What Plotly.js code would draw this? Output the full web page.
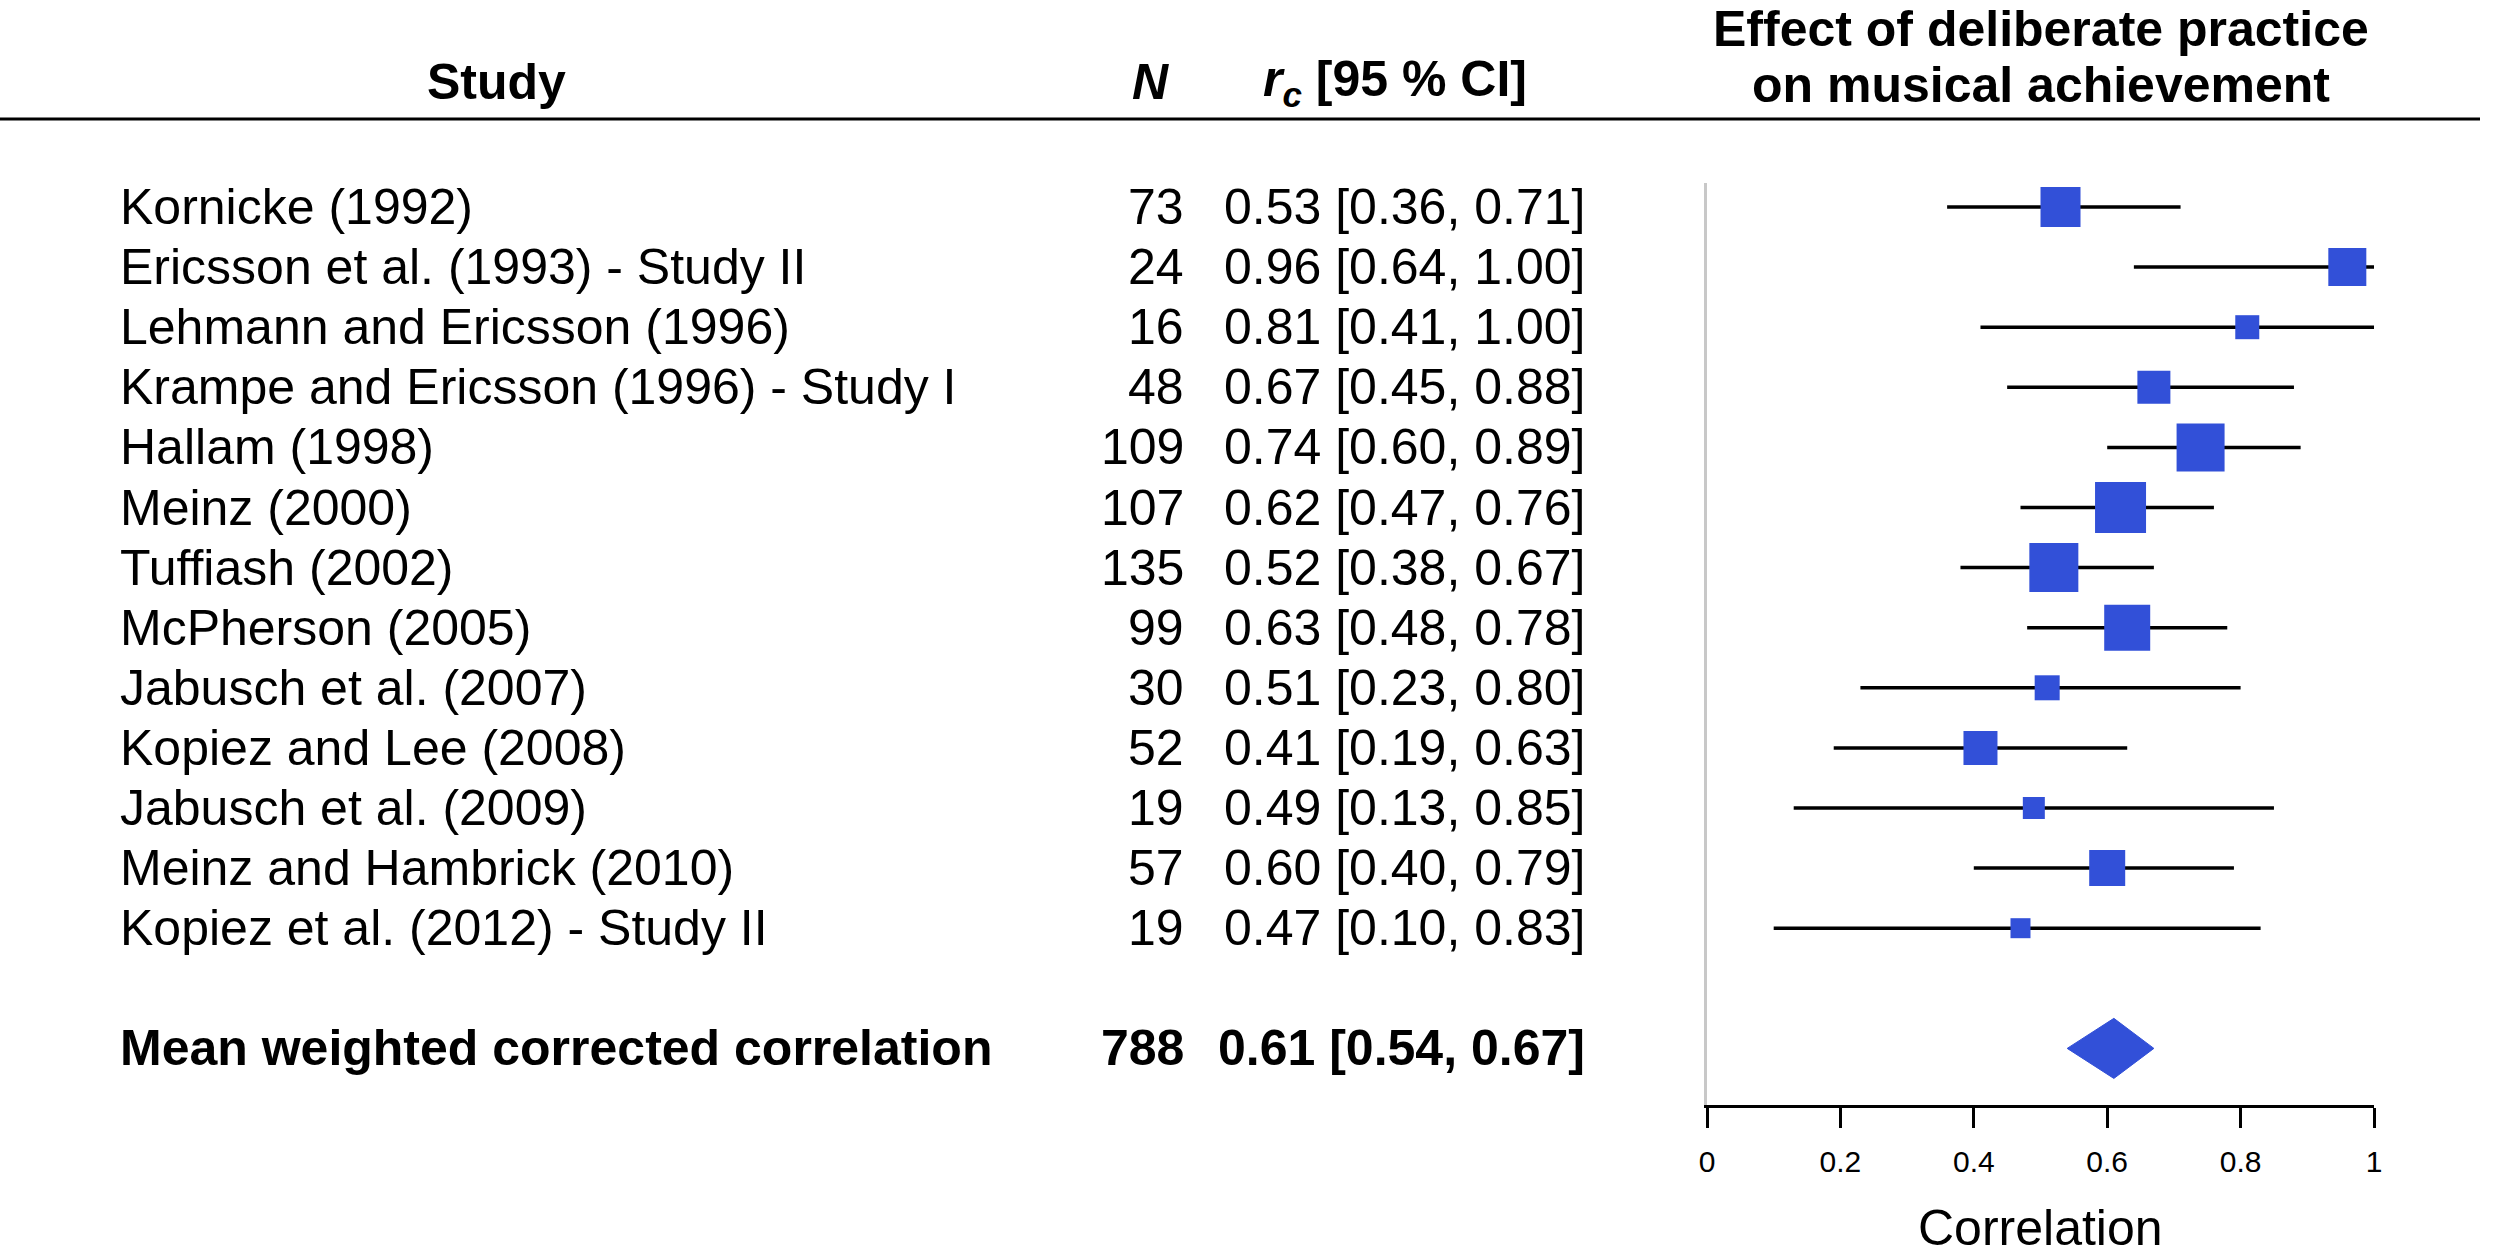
<!DOCTYPE html>
<html>
<head>
<meta charset="utf-8">
<script src="https://cdn.plot.ly/plotly-3.0.1.min.js"></script>
<style>
html,body{margin:0;padding:0;background:#fff;}
#chart{width:2500px;height:1256px;}
</style>
</head>
<body>
<div id="chart"></div>
<script>
// ---- data ----
var studies = [
  "Kornicke (1992)",
  "Ericsson et al. (1993) - Study II",
  "Lehmann and Ericsson (1996)",
  "Krampe and Ericsson (1996) - Study I",
  "Hallam (1998)",
  "Meinz (2000)",
  "Tuffiash (2002)",
  "McPherson (2005)",
  "Jabusch et al. (2007)",
  "Kopiez and Lee (2008)",
  "Jabusch et al. (2009)",
  "Meinz and Hambrick (2010)",
  "Kopiez et al. (2012) - Study II"
];
var nValues = [73, 24, 16, 48, 109, 107, 135, 99, 30, 52, 19, 57, 19];
var rc      = [0.53, 0.96, 0.81, 0.67, 0.74, 0.62, 0.52, 0.63, 0.51, 0.41, 0.49, 0.60, 0.47];
var ciLow   = [0.36, 0.64, 0.41, 0.45, 0.60, 0.47, 0.38, 0.48, 0.23, 0.19, 0.13, 0.40, 0.10];
var ciHigh  = [0.71, 1.00, 1.00, 0.88, 0.89, 0.76, 0.67, 0.78, 0.80, 0.63, 0.85, 0.79, 0.83];
var boxWeight = [40, 38, 24, 33, 48, 51, 49, 46, 25, 34, 22, 36, 20];

var summaryLabel = "Mean weighted corrected correlation";
var summaryN = 788;
var summaryR = 0.61;
var summaryLow = 0.54;
var summaryHigh = 0.67;

var tickVals = [0, 0.2, 0.4, 0.6, 0.8, 1];
var tickLabels = ["0", "0.2", "0.4", "0.6", "0.8", "1"];

// ---- geometry / styling ----
var W = 2500, H = 1256;
var FONT = "Liberation Sans, Arial, Helvetica, sans-serif";
var BLUE = "#3250d8";
var rowY = studies.map(function(_, i){ return i + 1; });
var summaryY = studies.length + 2;

function px(x){ return x / W; }
function py(y){ return 1 - y / H; }
function fmt(v){ return v.toFixed(2); }

// error-bar segments
var ebX = [], ebY = [];
for (var i = 0; i < studies.length; i++) {
  ebX.push(ciLow[i], ciHigh[i], null);
  ebY.push(rowY[i], rowY[i], null);
}

var traces = [
  {
    type: "scatter", mode: "lines", x: ebX, y: ebY,
    line: {color: "#000", width: 3.5},
    cliponaxis: false, hoverinfo: "skip", showlegend: false
  },
  {
    type: "scatter", mode: "markers", x: rc, y: rowY,
    marker: {symbol: "square", size: boxWeight, color: BLUE, opacity: 1, line: {width: 0}},
    opacity: 1,
    cliponaxis: false, hoverinfo: "skip", showlegend: false
  },
  {
    type: "scatter", mode: "lines",
    x: [summaryLow, summaryR, summaryHigh, summaryR, summaryLow],
    y: [summaryY, summaryY - 0.5, summaryY, summaryY + 0.5, summaryY],
    fill: "toself", fillcolor: BLUE,
    line: {color: BLUE, width: 1},
    cliponaxis: false, hoverinfo: "skip", showlegend: false
  }
];

var annotations = [];
var rowFont = {family: FONT, size: 50, color: "#000"};

for (var j = 0; j < studies.length; j++) {
  annotations.push({xref: "paper", yref: "y", x: px(118), y: rowY[j], xanchor: "left", yanchor: "middle",
    text: studies[j], showarrow: false, font: rowFont});
  annotations.push({xref: "paper", yref: "y", x: px(1186), y: rowY[j], xanchor: "right", yanchor: "middle",
    text: String(nValues[j]), showarrow: false, font: rowFont});
  annotations.push({xref: "paper", yref: "y", x: px(1587), y: rowY[j], xanchor: "right", yanchor: "middle",
    text: fmt(rc[j]) + " [" + fmt(ciLow[j]) + ", " + fmt(ciHigh[j]) + "]", showarrow: false, font: rowFont});
}
annotations.push({xref: "paper", yref: "y", x: px(118), y: summaryY, xanchor: "left", yanchor: "middle",
  text: "<b>" + summaryLabel + "</b>", showarrow: false, font: rowFont});
annotations.push({xref: "paper", yref: "y", x: px(1186), y: summaryY, xanchor: "right", yanchor: "middle",
  text: "<b>" + summaryN + "</b>", showarrow: false, font: rowFont});
annotations.push({xref: "paper", yref: "y", x: px(1587), y: summaryY, xanchor: "right", yanchor: "middle",
  text: "<b>" + fmt(summaryR) + " [" + fmt(summaryLow) + ", " + fmt(summaryHigh) + "]</b>", showarrow: false, font: rowFont});

// headers
annotations.push({xref: "paper", yref: "paper", x: px(496), y: py(82), xanchor: "center", yanchor: "middle",
  text: "<b>Study</b>", showarrow: false, font: rowFont});
annotations.push({xref: "paper", yref: "paper", x: px(1150), y: py(82), xanchor: "center", yanchor: "middle",
  text: "<b><i>N</i></b>", showarrow: false, font: rowFont});
annotations.push({xref: "paper", yref: "paper", x: px(1395), y: py(82), xanchor: "center", yanchor: "middle",
  text: "<b><i>r</i><sub><i>c</i></sub> [95 % CI]</b>", showarrow: false, font: rowFont});
annotations.push({xref: "x", yref: "paper", x: 0.5, y: py(29), xanchor: "center", yanchor: "middle",
  text: "<b>Effect of deliberate practice</b>", showarrow: false, font: rowFont});
annotations.push({xref: "x", yref: "paper", x: 0.5, y: py(85), xanchor: "center", yanchor: "middle",
  text: "<b>on musical achievement</b>", showarrow: false, font: rowFont});
annotations.push({xref: "x", yref: "paper", x: 0.5, y: py(1228), xanchor: "center", yanchor: "middle",
  text: "Correlation", showarrow: false, font: rowFont});

var rowPx0 = 207, rowStep = 60.1;
var plotTop = 183, plotBottom = 1105;
var yTop = 1 + (plotTop - rowPx0) / rowStep;
var yBottom = 1 + (plotBottom - rowPx0) / rowStep;

var layout = {
  width: W, height: H,
  margin: {l: 0, r: 0, t: 0, b: 0, pad: 0},
  paper_bgcolor: "#fff", plot_bgcolor: "rgba(0,0,0,0)",
  showlegend: false,
  hovermode: false,
  xaxis: {
    domain: [px(1707), px(2374)],
    range: [0, 1],
    showgrid: false, zeroline: false,
    showline: true, linecolor: "#000", linewidth: 3,
    ticks: "outside", ticklen: 20, tickwidth: 3, tickcolor: "#000",
    tickvals: tickVals, ticktext: tickLabels,
    ticklabelstandoff: 8,
    tickfont: {family: FONT, size: 30, color: "#000"},
    fixedrange: true
  },
  yaxis: {
    domain: [py(plotBottom), py(plotTop)],
    range: [yBottom, yTop],
    showgrid: false, zeroline: false,
    showline: true, linecolor: "#c8c8c8", linewidth: 3,
    showticklabels: false, ticks: "",
    fixedrange: true
  },
  shapes: [
    {type: "line", xref: "paper", yref: "paper", x0: 0, x1: px(2480), y0: py(119), y1: py(119),
     line: {color: "#000", width: 3}}
  ],
  annotations: annotations
};

Plotly.newPlot("chart", traces, layout, {staticPlot: true, displayModeBar: false});
</script>
</body>
</html>
